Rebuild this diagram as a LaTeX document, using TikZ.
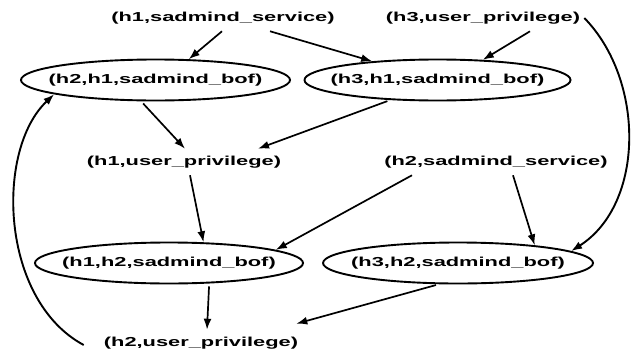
\documentclass[tikz,border=0pt]{standalone}
\usepackage{fontspec}
\newfontfamily\labfont{Liberation Sans}[FakeStretch=1.68]
\usetikzlibrary{shapes.geometric,arrows.meta}
\begin{document}
\begin{tikzpicture}[x=1pt,y=-1pt,
  lbl/.style={font=\labfont\bfseries\fontsize{13}{15}\selectfont, inner xsep=0pt, inner ysep=7pt},
  oval/.style={lbl, draw, ellipse, line width=1.9pt, minimum height=41pt, inner sep=0pt},
  arr/.style={line width=1.7pt, -{Latex[length=11pt,width=8pt]}},
  curv/.style={arr, line width=1.9pt}]
\useasboundingbox (0,0) rectangle (632,351);
\node[lbl] (s1) at (223,18) {(h1,sadmind\_service)};
\node[lbl] (u3) at (483,18) {(h3,user\_privilege)};
\node[oval, minimum width=269pt] (b21) at (155.5,80) {\makebox[0pt]{(h2,h1,sadmind\_bof)}};
\node[oval, minimum width=266pt] (b31) at (437.5,80) {\makebox[0pt]{(h3,h1,sadmind\_bof)}};
\node[lbl] (u1) at (184,162) {(h1,user\_privilege)};
\node[lbl] (s2) at (496,162) {(h2,sadmind\_service)};
\node[oval, minimum width=268pt] (b12) at (169,263) {\makebox[0pt]{(h1,h2,sadmind\_bof)}};
\node[oval, minimum width=270pt] (b32) at (458,263) {\makebox[0pt]{(h3,h2,sadmind\_bof)}};
\node[lbl] (u2) at (201,343) {(h2,user\_privilege)};

\draw[arr] ([xshift=-1pt]s1.south) -- (b21.32);
\draw[arr] ([xshift=47pt]s1.south) -- (b31.164);
\draw[arr] ([xshift=47pt]u3.south) -- (b31.24);
\draw[curv] ([xshift=4pt]u3.east) .. controls (645,80) and (645,204) .. (b32.6);
\draw[arr, shorten <=3pt] (b21.-124) -- ([xshift=1pt]u1.north);
\draw[arr, shorten <=3pt] (b31.-157) -- ([xshift=74pt]u1.north);
\draw[arr] ([xshift=6pt]u1.south) -- (b12.31);
\draw[arr] ([xshift=-84pt]s2.south) -- (b12.7);
\draw[arr] ([xshift=17pt]s2.south) -- (b32.13);
\draw[arr, shorten <=3pt] (b12.-27) -- ([xshift=6pt]u2.north);
\draw[arr, shorten <=3pt] (b32.-132) -- ([xshift=-2pt,yshift=6pt]u2.north east);
\draw[curv] ([xshift=-20pt,yshift=-2pt]u2.west) .. controls (0,300) and (-5,150) .. (b21.188);
\end{tikzpicture}
\end{document}
